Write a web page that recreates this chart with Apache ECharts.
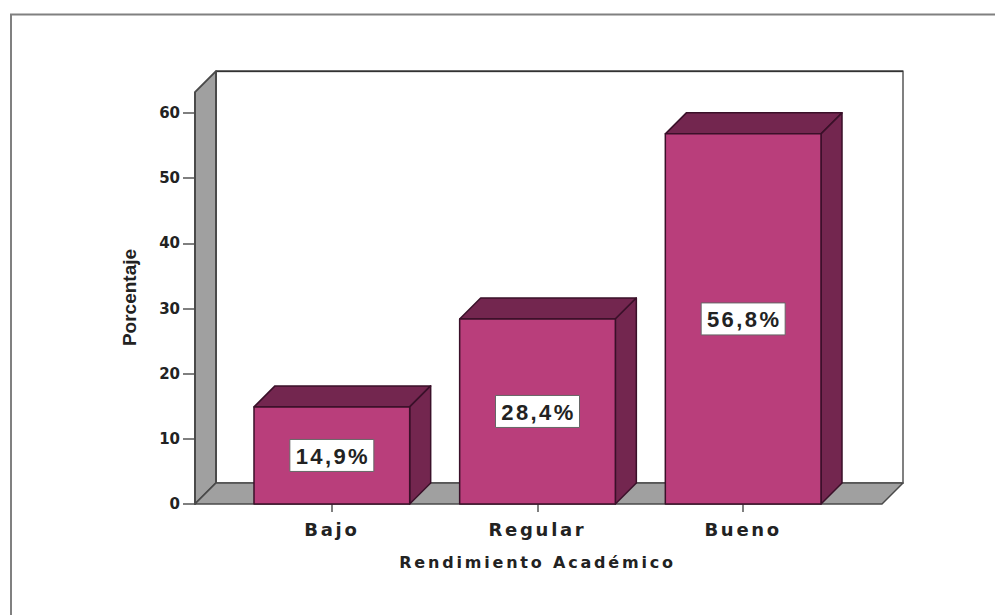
<!DOCTYPE html>
<html><head><meta charset="utf-8">
<style>
html,body{margin:0;padding:0;background:#fff}
#c{width:995px;height:615px}
#c svg text[style*="18px"]{letter-spacing:2.7px}
#c svg text[style*="16px"]{letter-spacing:2.8px}
#c svg text[style*="22px"]{letter-spacing:2.4px}
</style>
<script src="https://cdn.jsdelivr.net/npm/echarts@6/dist/echarts.min.js"></script>
</head><body><div id="c"></div>
<script>
const categories = ['Bajo', 'Regular', 'Bueno'];
const porcentajes = [14.9, 28.4, 56.8];
const yTicks = { min: 0, max: 60, interval: 10 };
const wallTopValue = 63.2;
const xAxisTitle = 'Rendimiento Académico';
const yAxisTitle = 'Porcentaje';

const DEPTH = 21, BAR_FRACTION = 0.757, WALL_OUT = 34;
const FRONT = '#B93E7B', DARK = '#73264F', EDGE = '#3A1029', GRAY = '#A0A0A0', WALLEDGE = '#4a4a4a';
const chart = echarts.init(document.getElementById('c'), null, { renderer: 'svg' });

function poly(points, fill, stroke, lw) {
  return { type: 'polygon', shape: { points }, style: { fill, stroke, lineWidth: lw || 1.5, lineJoin: 'round' } };
}

chart.setOption({
  animation: false,
  backgroundColor: '#fff',
  grid: { left: 229, width: 617, top: 113, height: 391 },
  graphic: [{
    type: 'polyline', silent: true,
    shape: { points: [[11, 615], [11, 14.5], [995, 14.5]] },
    style: { fill: 'none', stroke: '#808080', lineWidth: 2 }
  }],
  xAxis: {
    type: 'category', data: categories,
    axisLine: { show: false },
    axisTick: { show: true, alignWithLabel: true, length: 8, lineStyle: { color: '#555', width: 1.5 } },
    axisLabel: { margin: 16, color: '#222', fontFamily: 'DejaVu Sans', fontWeight: 'bold', fontSize: 18 },
    name: xAxisTitle, nameLocation: 'middle', nameGap: 50,
    nameTextStyle: { color: '#222', fontFamily: 'DejaVu Sans', fontWeight: 'bold', fontSize: 16 }
  },
  yAxis: {
    type: 'value', min: yTicks.min, max: yTicks.max, interval: yTicks.interval, offset: WALL_OUT,
    splitLine: { show: false },
    axisLine: { show: false },
    axisTick: { show: true, length: 12, lineStyle: { color: '#555', width: 1.5 } },
    axisLabel: { margin: 15, color: '#222', fontFamily: 'DejaVu Sans', fontWeight: 'bold', fontSize: 15 },
    name: yAxisTitle, nameLocation: 'middle', nameGap: 56, nameRotate: 90,
    nameTextStyle: { color: '#222', fontFamily: 'Liberation Sans', fontWeight: 'bold', fontSize: 19, padding: [0, 0, 0, 22] }
  },
  series: [{
    type: 'custom', silent: true, z: 1, data: [[0, wallTopValue]],
    renderItem(params, api) {
      const band = api.size([1, 0])[0];
      const c0 = api.coord([0, 0]), cT = api.coord([0, wallTopValue]);
      const c2 = api.coord([2, 0]);
      const xL = c0[0] - band / 2 - WALL_OUT, xR = c2[0] + band / 2 + WALL_OUT + 2;
      const y0 = c0[1], yT = cT[1], d = DEPTH;
      return { type: 'group', children: [
        poly([[xL + d, yT - d], [xR + d, yT - d], [xR + d, y0 - d], [xL + d, y0 - d]], '#fff', '#808080', 2),
        { type: 'polyline', shape: { points: [[xL + d, yT - d], [xR + d, yT - d]] }, style: { fill: 'none', stroke: '#333', lineWidth: 1.5 } },
        poly([[xL, y0], [xL + d, y0 - d], [xL + d, yT - d], [xL, yT]], GRAY, WALLEDGE, 2),
        poly([[xL, y0], [xL + d, y0 - d], [xR + d, y0 - d], [xR, y0]], GRAY, WALLEDGE, 1.5)
      ] };
    }
  }, {
    type: 'custom', silent: true, z: 2,
    data: porcentajes.map((v, i) => [i, v]),
    renderItem(params, api) {
      const i = api.value(0), v = api.value(1);
      const band = api.size([1, 0])[0], w = band * BAR_FRACTION;
      const top = api.coord([i, v]), base = api.coord([i, 0]);
      const x0 = top[0] - w / 2, x1 = top[0] + w / 2, yt = top[1], yb = base[1], d = DEPTH;
      const cx = top[0], cy = (yt + yb) / 2;
      const label = v.toFixed(1).replace('.', ',') + '%';
      return { type: 'group', children: [
        poly([[x0, yt], [x0 + d, yt - d], [x1 + d, yt - d], [x1, yt]], DARK, EDGE),
        poly([[x1, yt], [x1 + d, yt - d], [x1 + d, yb - d], [x1, yb]], DARK, EDGE),
        poly([[x0, yt], [x1, yt], [x1, yb], [x0, yb]], FRONT, EDGE),
        { type: 'rect', shape: { x: cx - 42, y: cy - 16, width: 84, height: 32 }, style: { fill: '#fff', stroke: '#666', lineWidth: 1 } },
        { type: 'text', style: { text: label, x: cx + 1, y: cy + 1, align: 'center', verticalAlign: 'middle', fill: '#222', font: 'bold 22px "Liberation Sans"' } }
      ] };
    }
  }]
});
</script></body></html>
